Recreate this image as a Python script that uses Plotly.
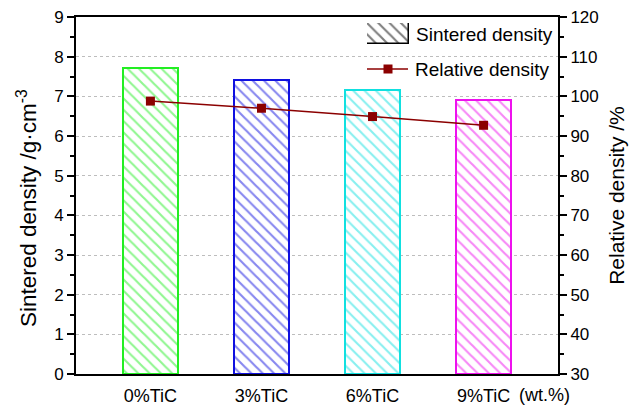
import plotly.graph_objects as go

# Samples and measured values
categories = ["0%TiC", "3%TiC", "6%TiC", "9%TiC"]
sintered_density = [7.71, 7.40, 7.16, 6.91]      # g/cm^3
relative_density = [98.8, 97.0, 94.9, 92.7]      # %
bar_colors = ["#22EE22", "#1010E0", "#11E0E0", "#EE11EE"]

FONT = "Arial, Liberation Sans, sans-serif"
W, H = 643, 406
ML, MR, MT, MB = 76, 85, 17, 32
PW, PH = W - ML - MR, H - MT - MB


def px_x(px):
    return (px - ML) / PW


def px_y(py):
    return (H - MB - py) / PH


fig = go.Figure()

# Hatched bars: sintered density (left axis)
fig.add_trace(go.Bar(
    x=categories, y=sintered_density, width=0.5,
    marker=dict(
        color="white",
        line=dict(color=bar_colors, width=2),
        pattern=dict(shape="\\", fgcolor=bar_colors, bgcolor="white",
                     fillmode="overlay", size=8, solidity=0.27),
    ),
    showlegend=False, xaxis="x", yaxis="y",
))

# Line + square markers: relative density (right axis)
fig.add_trace(go.Scatter(
    x=categories, y=relative_density, mode="lines+markers",
    line=dict(color="#8B0000", width=1.5),
    marker=dict(symbol="square", size=9, color="#8B0000"),
    showlegend=False, xaxis="x", yaxis="y2",
))

# Legend key for the hatched bars, drawn on its own small axes
fig.add_trace(go.Bar(
    x=[0], y=[1], width=1,
    marker=dict(color="white", line=dict(color="black", width=1.5),
                pattern=dict(shape="\\", fgcolor="black", bgcolor="white",
                             fillmode="overlay", size=8, solidity=0.27)),
    showlegend=False, hoverinfo="skip", xaxis="x3", yaxis="y3",
))

axis_line = dict(showline=True, linecolor="black", linewidth=2)

fig.update_layout(
    width=W, height=H,
    margin=dict(l=ML, r=MR, t=MT, b=MB, pad=0, autoexpand=False),
    paper_bgcolor="white", plot_bgcolor="white",
    font=dict(family=FONT, color="black", size=17),
    bargap=0,
    xaxis=dict(
        type="category", range=[-0.67, 3.67], **axis_line, mirror=True,
        ticks="", showgrid=False, tickfont=dict(size=18), zeroline=False,
        ticklabelstandoff=4, automargin=False,
    ),
    yaxis=dict(
        range=[0, 9], dtick=1, **axis_line,
        ticks="outside", ticklen=7, tickwidth=1.5, tickcolor="black",
        minor=dict(dtick=0.5, ticks="outside", ticklen=4, tickwidth=1.5,
                   tickcolor="black", showgrid=False),
        showgrid=True, gridcolor="#BDBDBD", griddash="dot", gridwidth=1,
        zeroline=False, tickfont=dict(size=17), automargin=False,
    ),
    yaxis2=dict(
        overlaying="y", side="right", anchor="x",
        range=[30, 120], dtick=10, **axis_line,
        ticks="outside", ticklen=7, tickwidth=1.5, tickcolor="black",
        minor=dict(dtick=5, ticks="outside", ticklen=4, tickwidth=1.5,
                   tickcolor="black"),
        showgrid=False, zeroline=False, tickfont=dict(size=17),
        automargin=False,
        title=dict(text="Relative density /%", font=dict(size=21), standoff=12),
    ),
    xaxis3=dict(domain=[px_x(367), px_x(409)], range=[-0.5, 0.5],
                visible=False, anchor="y3", fixedrange=True),
    yaxis3=dict(domain=[px_y(44), px_y(23)], range=[0, 1],
                visible=False, anchor="x3", fixedrange=True),
)

# Left axis title, placed as rotated text
fig.add_annotation(text="Sintered density /g·cm<sup>-3</sup>",
                   xref="paper", yref="paper", x=px_x(27), y=px_y(208),
                   xanchor="center", yanchor="middle", textangle=-90,
                   showarrow=False, font=dict(size=22.5))

# Legend key for the line series
ly = px_y(69)
fig.add_shape(type="line", xref="paper", yref="paper",
              x0=px_x(367), x1=px_x(408), y0=ly, y1=ly,
              line=dict(color="#8B0000", width=1.5))
fig.add_shape(type="rect", xref="paper", yref="paper",
              x0=px_x(383.5), x1=px_x(392.5), y0=px_y(73.5), y1=px_y(64.5),
              fillcolor="#8B0000", line=dict(width=0))

fig.add_annotation(text="Sintered density", xref="paper", yref="paper",
                   x=px_x(414), y=px_y(34), xanchor="left", yanchor="middle",
                   showarrow=False, font=dict(size=19))
fig.add_annotation(text="Relative density", xref="paper", yref="paper",
                   x=px_x(413), y=px_y(69), xanchor="left", yanchor="middle",
                   showarrow=False, font=dict(size=19))

# Unit label next to the last category
fig.add_annotation(text="(wt.%)", xref="paper", yref="paper",
                   x=px_x(517), y=px_y(395), xanchor="left", yanchor="middle",
                   showarrow=False, font=dict(size=18))

fig.write_html("out.html")
